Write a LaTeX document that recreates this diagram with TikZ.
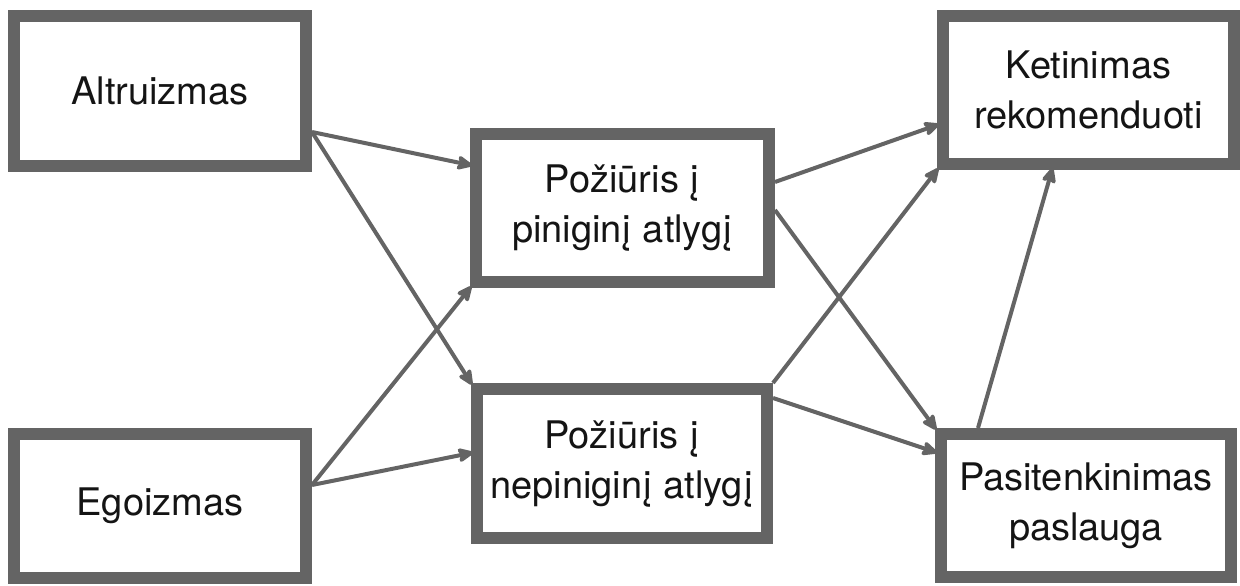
\documentclass[tikz,border=0pt]{standalone}
\usepackage{fontspec}
\setmainfont{TeX Gyre Heros}
\usetikzlibrary{arrows.meta,calc}
\definecolor{boxgray}{HTML}{646464}
\tikzset{
  bx/.style={draw=boxgray, line width=12pt, fill=white, rectangle, align=center,
    font=\fontsize{38}{50}\selectfont, text=black!92, inner sep=0pt},
  arr/.style={draw=boxgray, line width=4pt,
    -{Stealth[length=19pt,width=17pt,inset=4pt,round]}, shorten >=-2pt}
}
\begin{document}
\begin{tikzpicture}[x=1pt,y=-1pt]
\useasboundingbox (0,0) rectangle (1240,586);
\node[bx, minimum width=292pt, minimum height=150pt] (alt) at (160,91) {Altruizmas};
\node[bx, minimum width=292pt, minimum height=144pt] (ego) at (160,506) {Egoizmas};
\node[bx, minimum width=293pt, minimum height=148pt] (pin) at (622.5,208) {Požiūris į\\piniginį atlygį};
\node[bx, minimum width=290pt, minimum height=149pt] (nep) at (622,463.5) {Požiūris į\\nepiniginį atlygį};
\node[bx, minimum width=291pt, minimum height=148pt] (ket) at (1088.5,90) {Ketinimas\\rekomenduoti};
\node[bx, minimum width=290pt, minimum height=143pt] (pas) at (1086,505.5) {Pasitenkinimas\\paslauga};

\coordinate (altout) at ($(alt.north east)+(0,122)$);
\coordinate (egoout) at ($(ego.north east)+(0,57)$);
\draw[arr] (altout) -- ($(pin.north west)+(0,37)$);
\draw[arr] (altout) -- (nep.north west);
\draw[arr] (egoout) -- (pin.south west);
\draw[arr] (egoout) -- ($(nep.north west)+(0,70)$);
\draw[arr] ($(pin.north east)+(0,54)$) -- ($(ket.north west)+(0,115)$);
\draw[arr] ($(pin.north east)+(0,82)$) -- (pas.north west);
\draw[arr] (nep.north east) -- (ket.south west);
\draw[arr] ($(nep.north east)+(0,15)$) -- ($(pas.north west)+(0,24)$);
\draw[arr] ($(pas.north west)+(43,0)$) -- ($(ket.south west)+(115,0)$);
\end{tikzpicture}
\end{document}
